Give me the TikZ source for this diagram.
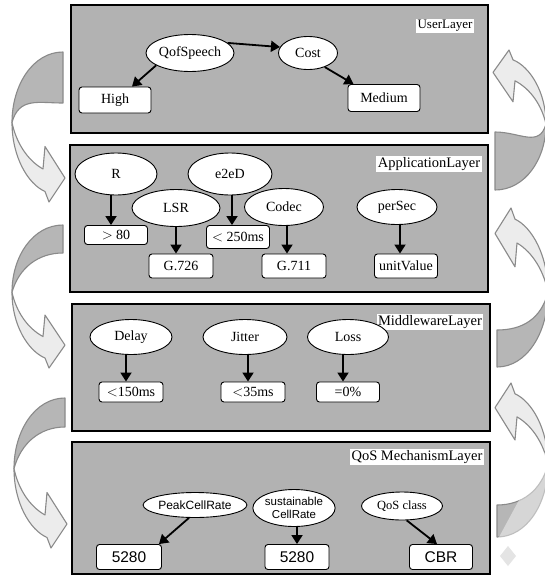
\documentclass[tikz,border=0pt]{standalone}
\usepackage{fontspec}
\setmainfont{Liberation Serif}
\newfontfamily\arialfont{Liberation Sans}
\usetikzlibrary{arrows.meta,shapes.geometric}

\definecolor{layerfill}{RGB}{178,178,178}
\definecolor{benddark}{RGB}{182,182,182}
\definecolor{bendlight}{RGB}{236,236,236}
\definecolor{bendedge}{RGB}{138,138,138}
\definecolor{markgray}{RGB}{228,228,228}

\tikzset{
  layer/.style={draw=black, line width=1.3pt, fill=layerfill},
  layertitle/.style={fill=white, inner sep=1.5pt, font=\fontsize{14.5}{16}\selectfont},
  attr/.style={ellipse, draw=black, line width=0.9pt, fill=white, inner sep=0pt,
               font=\fontsize{14}{15}\selectfont},
  val/.style={rectangle, rounded corners=3pt, draw=black, line width=0.9pt, fill=white,
              inner sep=0pt, font=\fontsize{14}{15}\selectfont},
  link/.style={line width=1.8pt, -{Triangle[length=9pt,width=11pt]}},
  bendline/.style={draw=bendedge, line width=1.1pt, line join=round},
  % curved block arrow; origin = upper right corner of its back band
  % #1 = thickness of the back band, #2 = overall height
  pics/bendarrow/.style 2 args={code={
    \filldraw[bendline, fill=benddark]
      (0,0) .. controls (-30,0) and (-51,{0.22*#2}) .. (-51,{0.47*#2})
      .. controls (-44,{0.30*#2}) and (-25,#1) .. (0,#1) -- cycle;
    \filldraw[bendline, fill=bendlight]
      (-51,{0.47*#2}) .. controls (-51,{0.70*#2}) and (-35,{0.88*#2}) .. (-18,{0.93*#2})
      -- (-14,#2) -- (2,{0.84*#2}) -- (-18,{0.63*#2}) -- (-20,{0.78*#2})
      .. controls (-36,{0.72*#2}) and (-47,{0.60*#2}) .. cycle;
  }}
}

\begin{document}
\begin{tikzpicture}[x=1pt,y=-1pt]
\fill[white] (0,0) rectangle (545,576);
\useasboundingbox (0,0) rectangle (545,576);

% side arrows
\begin{scope}
  \clip (0,0) rectangle (545,576);
  \pic at (63,52)  {bendarrow={51}{150}};
  \pic at (63,225) {bendarrow={28}{143}};
  \pic at (65,398) {bendarrow={29}{150}};
  \pic[rotate=180] at (495,190) {bendarrow={58}{140}};
  \pic[rotate=180] at (497,367) {bendarrow={37}{159}};
  \pic[rotate=180] at (497,537) {bendarrow={32}{154}};
  % faint background mark in the lower right corner
  \fill[white, opacity=0.45] (478,576) -- (545,452) -- (545,505) -- (512,576) -- cycle;
  \fill[markgray] (508,546) -- (516,556) -- (508,566) -- (500,556) -- cycle;
\end{scope}

% layers
\node[layer, minimum width=417pt, minimum height=128pt] (userlayer) at (279.5,69) {};
\node[layer, minimum width=418pt, minimum height=147pt] (applayer)  at (279,218.5) {};
\node[layer, minimum width=418pt, minimum height=127pt] (midlayer)  at (281,367.5) {};
\node[layer, minimum width=418pt, minimum height=132pt] (qoslayer)  at (281,508) {};

\node[layertitle, font=\fontsize{13}{14}\selectfont] (usertitle) at (445,26) {UserLayer};
\node[layertitle] (apptitle) at (429,164) {ApplicationLayer};
\node[layertitle] (midtitle) at (430,322) {MiddlewareLayer};
\node[layertitle] (qostitle) at (417,457) {QoS MechanismLayer};

% user layer
\begin{scope}[every node/.append style={font=\fontsize{13}{14}\selectfont}]
\node[attr, minimum width=80pt, minimum height=37pt] (qos) at (190,53) {QofSpeech};
\node[attr, minimum width=59pt, minimum height=33pt] (cost) at (308,53) {Cost};
\node[val, minimum width=72pt, minimum height=26pt] (high) at (115,100) {High};
\node[val, minimum width=72pt, minimum height=27pt] (medium) at (384,98) {Medium};
\end{scope}
\draw[link] (qos.15) -- (cost.168);
\draw[link] (qos.200) -- ([xshift=17pt]high.north);
\draw[link] (cost.-40) -- ([xshift=6pt]medium.north west);

% application layer
\node[attr, minimum width=82pt, minimum height=42pt] (r) at (116,174) {R};
\node[attr, minimum width=84pt, minimum height=42pt] (e2ed) at (230,174) {e2eD};
\node[attr, minimum width=88pt, minimum height=37pt] (lsr) at (176,208) {LSR};
\node[attr, minimum width=79pt, minimum height=37pt] (codec) at (284,207) {Codec};
\node[attr, minimum width=80pt, minimum height=35pt] (persec) at (397,207) {perSec};
\node[val, minimum width=63pt, minimum height=19pt] (gt80) at (116,235) {$>$ 80};
\node[val, minimum width=63pt, minimum height=23pt] (lt250) at (238,237) {$<$ 250ms};
\node[val, minimum width=64pt, minimum height=24pt] (g726) at (181,266) {G.726};
\node[val, minimum width=64pt, minimum height=24pt] (g711) at (294,266) {G.711};
\node[val, minimum width=63pt, minimum height=24pt] (unitval) at (406,266) {unitValue};
\draw[link] ([xshift=-5pt]r.south) -- ([xshift=-5pt]r.south |- gt80.north);
\draw[link] ([xshift=2pt]e2ed.south) -- ([xshift=2pt]e2ed.south |- lt250.north);
\draw[link] (lsr.south) -- (lsr.south |- g726.north);
\draw[link] ([xshift=3pt]codec.south) -- ([xshift=3pt]codec.south |- g711.north);
\draw[link] ([xshift=3pt]persec.south) -- ([xshift=3pt]persec.south |- unitval.north);

% middleware layer
\node[attr, minimum width=82pt, minimum height=35pt] (delay) at (131,337) {Delay};
\node[attr, minimum width=84pt, minimum height=35pt] (jitter) at (245,337) {Jitter};
\node[attr, minimum width=81pt, minimum height=35pt] (loss) at (348,337) {Loss};
\node[val, minimum width=64pt, minimum height=20pt] (d150) at (131,392) {$<$150ms};
\node[val, minimum width=64pt, minimum height=20pt] (j35) at (253,392) {$<$35ms};
\node[val, minimum width=63pt, minimum height=20pt] (l0) at (348,392) {=0\%};
\draw[link] ([xshift=-5pt]delay.south) -- ([xshift=-5pt]delay.south |- d150.north);
\draw[link] ([xshift=3pt]jitter.south) -- ([xshift=3pt]jitter.south |- j35.north);
\draw[link] ([xshift=-5pt]loss.south) -- ([xshift=-5pt]loss.south |- l0.north);

% QoS mechanism layer
\node[attr, minimum width=84pt, minimum height=25pt, font=\arialfont\fontsize{12}{13}\selectfont] (peak) at (195,505) {PeakCellRate};
\node[attr, minimum width=74pt, minimum height=37pt, align=center, font=\arialfont\fontsize{11.5}{12.5}\selectfont] (sust) at (294,508) {sustainable\\CellRate};
\node[attr, minimum width=81pt, minimum height=28pt, font=\fontsize{12.5}{13}\selectfont] (qclass) at (402,506) {QoS class};
\node[val, minimum width=65pt, minimum height=25pt, font=\arialfont\fontsize{15.5}{16}\selectfont] (pcr) at (129,557) {5280};
\node[val, minimum width=64pt, minimum height=25pt, font=\arialfont\fontsize{15.5}{16}\selectfont] (scr) at (297,557) {5280};
\node[val, minimum width=63pt, minimum height=25pt, font=\arialfont\fontsize{15.5}{16}\selectfont] (cbr) at (441,557) {CBR};
\draw[link] (peak.245) -- ([xshift=-3pt]pcr.north east);
\draw[link] ([xshift=3pt]sust.south) -- ([xshift=3pt]sust.south |- scr.north);
\draw[link] (qclass.-72) -- ([xshift=-4pt]cbr.north);
\end{tikzpicture}
\end{document}
